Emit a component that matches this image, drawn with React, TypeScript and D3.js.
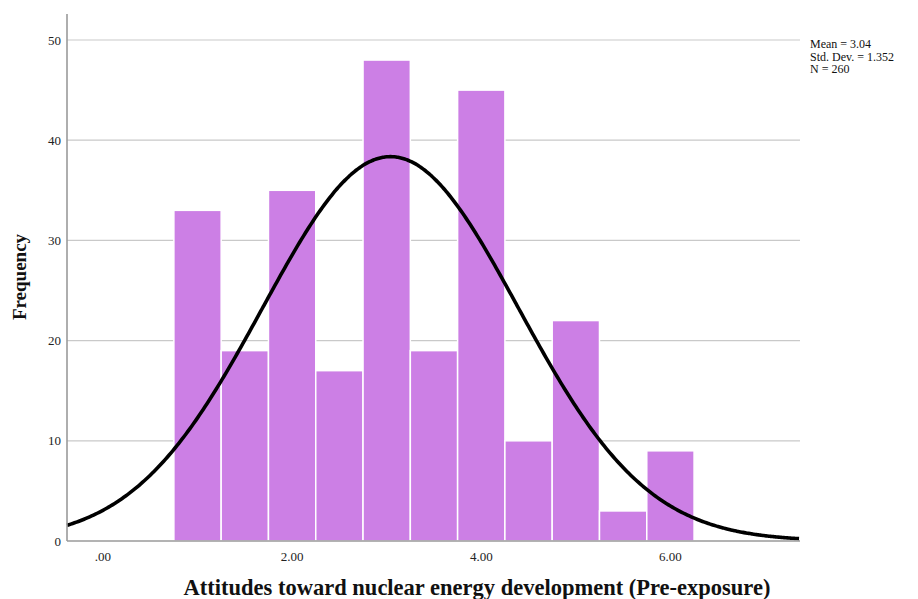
import React from "react";
import * as d3 from "d3";

// Histogram bins (width 0.5) centred on these values
const binCenters = [1, 1.5, 2, 2.5, 3, 3.5, 4, 4.5, 5, 5.5, 6];
const frequencies = [33, 19, 35, 17, 48, 19, 45, 10, 22, 3, 9];
const binWidth = 0.5;

const xTicks = [0, 2, 4, 6];
const yTicks = [0, 10, 20, 30, 40, 50];

const stats = { mean: 3.04, sd: 1.352, n: 260 };
const statLines = ["Mean = 3.04", "Std. Dev. = 1.352", "N = 260"];

const W = 918;
const H = 599;
const left = 67;
const right = 800;
const top = 14;
const bottom = 541;

export default function App() {
  const x = d3.scaleLinear().domain([-0.38, 7.37]).range([left, right]);
  const y = d3.scaleLinear().domain([0, 50]).range([bottom, 40]);

  const pdf = (v: number) =>
    (stats.n * binWidth) / (stats.sd * Math.sqrt(2 * Math.PI)) *
    Math.exp(-0.5 * ((v - stats.mean) / stats.sd) ** 2);
  const curvePts = d3.range(-0.38, 7.37 + 1e-9, 0.02).map((v) => [v, pdf(v)] as [number, number]);
  const line = d3
    .line<[number, number]>()
    .x((d) => x(d[0]))
    .y((d) => y(d[1]))
    .curve(d3.curveBasis);

  const serif = "'Liberation Serif', 'Times New Roman', serif";

  return (
    <svg
      width={W}
      height={H}
      style={{ position: "absolute", left: 0, top: 0, background: "#fff" }}
      fontFamily={serif}
    >
      {/* grid lines */}
      {yTicks.filter((t) => t > 0).map((t) => (
        <line key={t} x1={left} x2={right} y1={y(t)} y2={y(t)} stroke="#c9c9c9" strokeWidth={1.2} />
      ))}
      {/* bars */}
      {binCenters.map((c, i) => (
        <rect
          key={c}
          x={x(c - binWidth / 2)}
          y={y(frequencies[i])}
          width={x(c + binWidth / 2) - x(c - binWidth / 2)}
          height={bottom - y(frequencies[i])}
          fill="#cc7fe5"
          stroke="#ffffff"
          strokeWidth={1.5}
        />
      ))}
      {/* normal curve */}
      <path d={line(curvePts) || ""} fill="none" stroke="#000" strokeWidth={3.6} />
      {/* axes */}
      <line x1={left} x2={left} y1={top} y2={bottom} stroke="#9a9a9a" strokeWidth={1.6} />
      <line x1={left} x2={right} y1={bottom} y2={bottom} stroke="#9a9a9a" strokeWidth={1.6} />
      {yTicks.map((t) => (
        <text key={t} x={left - 6} y={y(t)} dy="0.35em" textAnchor="end" fontSize={13} fill="#222">
          {t}
        </text>
      ))}
      {xTicks.map((t) => (
        <text key={t} x={x(t)} y={bottom + 20} textAnchor="middle" fontSize={13} fill="#222">
          {t === 0 ? ".00" : t.toFixed(2)}
        </text>
      ))}
      {/* axis titles */}
      <text
        x={477}
        y={595}
        textAnchor="middle"
        fontSize={22.5}
        fontWeight="bold"
        fill="#111"
      >
        Attitudes toward nuclear energy development (Pre-exposure)
      </text>
      <text
        transform={`translate(26, 277) rotate(-90)`}
        textAnchor="middle"
        fontSize={19}
        fontWeight="bold"
        fill="#111"
      >
        Frequency
      </text>
      {/* summary statistics */}
      {statLines.map((s, i) => (
        <text key={s} x={810} y={48 + i * 12.5} fontSize={12} fill="#111">
          {s}
        </text>
      ))}
    </svg>
  );
}
